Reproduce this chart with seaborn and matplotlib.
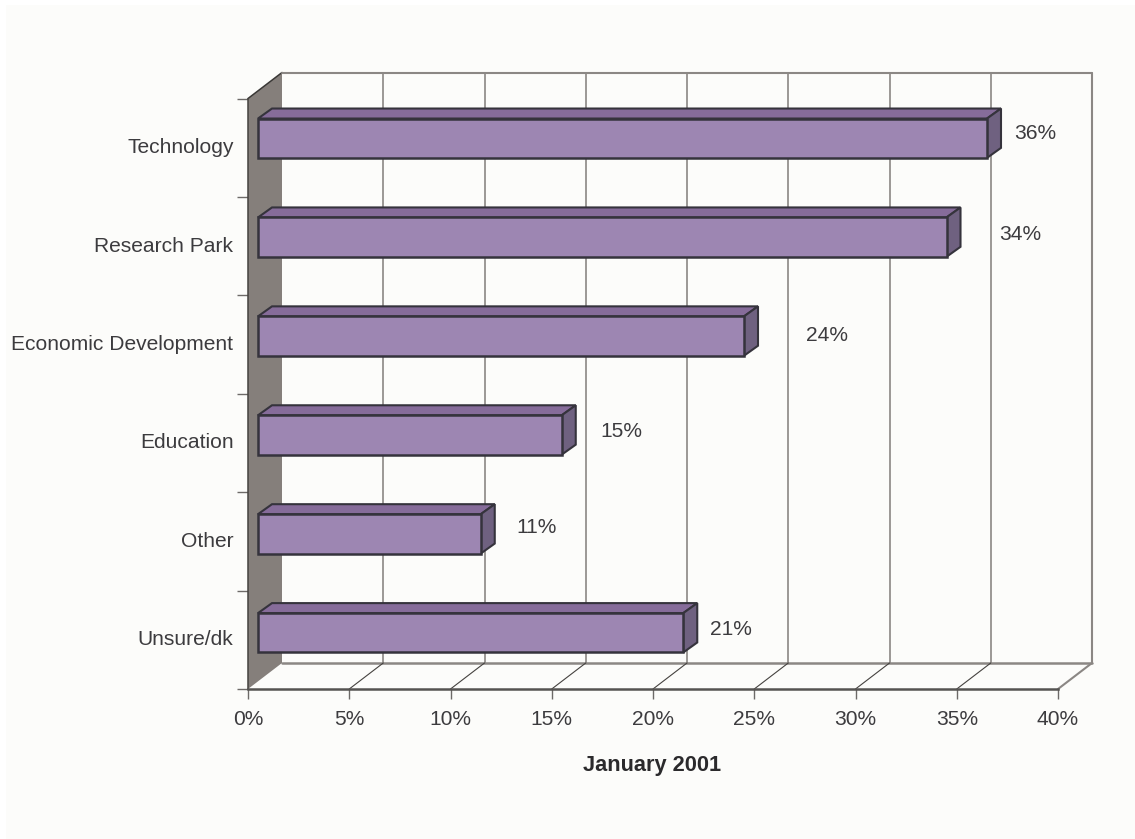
import numpy as np
import pandas as pd
import matplotlib
matplotlib.use("Agg")
import matplotlib.pyplot as plt
import seaborn as sns
from matplotlib.patches import Polygon, Rectangle
from matplotlib.transforms import Affine2D

categories = ["Technology", "Research Park", "Economic Development", "Education", "Other", "Unsure/dk"]
values = [36, 34, 24, 15, 11, 21]
value_labels = ["36%", "34%", "24%", "15%", "11%", "21%"]
xtick_values = [0, 5, 10, 15, 20, 25, 30, 35, 40]
xtick_labels = ["0%", "5%", "10%", "15%", "20%", "25%", "30%", "35%", "40%"]
x_title = "January 2001"

# label offsets from the front end of each bar, in pixels
label_dx = [58, 84, 93, 70, 66, 58]
label_dy = [14, 12, 9, 11, 14, 10]

W, H = 1135, 839
left, right, top, bottom = 248, 1058, 98.5, 689
text_color = "#3c3b3e"
grid_color = "#8b8784"
font_size = 15.1

sns.set_theme(style="white")
plt.rcParams["font.family"] = ["Liberation Sans", "DejaVu Sans"]

fig = plt.figure(figsize=(W / 100, H / 100), dpi=100, facecolor="white")
fig.add_artist(Rectangle((6 / W, 0), 1 - 6 / W, 1 - 5 / H, transform=fig.transFigure,
                         facecolor="#fcfcfa", edgecolor="none", zorder=-5))
ax = fig.add_axes([left / W, 1 - bottom / H, (right - left) / W, (bottom - top) / H])
ax.set_facecolor("none")

df = pd.DataFrame({"topic": categories, "share": values})
sns.barplot(data=df, x="share", y="topic", orient="h", width=0.4,
            color="#9d86b2", saturation=1, edgecolor="#35333c", linewidth=1.8, ax=ax, zorder=4)
ax.set_xlim(0, 40)
ax.set_ylim(5.5, -0.5)
bars = list(ax.containers[0])

# pixel sizes turned into data units for the fake 3d
px_x = 40 / (right - left)
px_y = 6 / (bottom - top)
wall_x, wall_y = 34 * px_x, 26 * px_y
depth_x, depth_y = 14 * px_x, 10 * px_y

#back wall and floor
ax.add_patch(Polygon([(0, 5.5), (wall_x, 5.5 - wall_y), (wall_x, -0.5 - wall_y), (0, -0.5)],
                     closed=True, facecolor="#857f7b", edgecolor="none", zorder=1, clip_on=False))
ax.plot([0, wall_x], [-0.5, -0.5 - wall_y], color="#3a3836", lw=1.1, zorder=2, clip_on=False)
ax.plot([wall_x, 40 + wall_x], [-0.5 - wall_y] * 2, color=grid_color, lw=1.5, zorder=2, clip_on=False)
ax.plot([wall_x, 40 + wall_x], [5.5 - wall_y] * 2, color=grid_color, lw=1.8, zorder=2, clip_on=False)
ax.plot([40 + wall_x, 40], [5.5 - wall_y, 5.5], color=grid_color, lw=1.5, zorder=2, clip_on=False)
for v in xtick_values[1:]:
    ax.plot([v + wall_x] * 2, [5.5 - wall_y, -0.5 - wall_y], color=grid_color,
            lw=1.5 if v == 40 else 1.2, zorder=2, clip_on=False)
for v in xtick_values[1:-1]:
    ax.plot([v, v + wall_x], [5.5, 5.5 - wall_y], color="#45423f", lw=0.8, zorder=2, clip_on=False)

#bars sit a little inside the front plane, rows drift about half a pixel each
for i, bar in enumerate(bars):
    shift = ax.transData + Affine2D().translate(10, 9.5 - i * 0.5)
    x0, y0 = bar.get_x(), bar.get_y()
    w, h = bar.get_width(), bar.get_height()
    bar.set_transform(shift)
    bar.set_clip_on(False)
    bar.set_joinstyle("miter")
    top_face = [(x0, y0), (x0 + depth_x, y0 - depth_y), (x0 + w + depth_x, y0 - depth_y), (x0 + w, y0)]
    side_face = [(x0 + w, y0), (x0 + w + depth_x, y0 - depth_y),
                 (x0 + w + depth_x, y0 + h - depth_y), (x0 + w, y0 + h)]
    ax.add_patch(Polygon(top_face, closed=True, facecolor="#866c9a", edgecolor="#35333c",
                         linewidth=1.5, transform=shift, zorder=3, clip_on=False))
    ax.add_patch(Polygon(side_face, closed=True, facecolor="#6f6180", edgecolor="#35333c",
                         linewidth=1.5, transform=shift, zorder=3, clip_on=False))

for i, (val, lab) in enumerate(zip(values, value_labels)):
    ax.annotate(lab, xy=(val, i), xytext=(label_dx[i], label_dy[i]), textcoords="offset pixels",
                ha="center", va="center", fontsize=font_size, color=text_color, zorder=6)

# axes, ticks and labels
sns.despine(ax=ax, top=True, right=True)
ax.spines["left"].set(color="#45423f", linewidth=1.1, zorder=3)
ax.spines["bottom"].set(color="#555351", linewidth=1.8, zorder=3)
ax.set_xticks(xtick_values, xtick_labels)
ax.set_yticks(range(len(categories)), categories)
ax.set_yticks(np.arange(-0.5, 6), minor=True)
ax.tick_params(axis="x", which="major", bottom=True, length=7.5, width=1, color="#6d6a68",
               pad=7.5, labelsize=font_size, labelcolor=text_color)
ax.tick_params(axis="y", which="major", left=False, length=0, pad=10.5, labelsize=font_size,
               labelcolor=text_color)
ax.tick_params(axis="y", which="minor", left=True, length=8, width=1, color="#6d6a68")
for lab in ax.get_yticklabels():
    lab.set_transform(lab.get_transform() + Affine2D().translate(0, 2))
ax.set_ylabel("")
ax.set_xlabel(x_title, fontsize=15.7, fontweight="bold", color="#2b2a2c")
ax.xaxis.set_label_coords((652 - left) / (right - left), (bottom - 766) / (bottom - top))
ax.xaxis.label.set_va("center")
ax.grid(False)

fig.savefig("out.png", dpi=100, facecolor=fig.get_facecolor())
